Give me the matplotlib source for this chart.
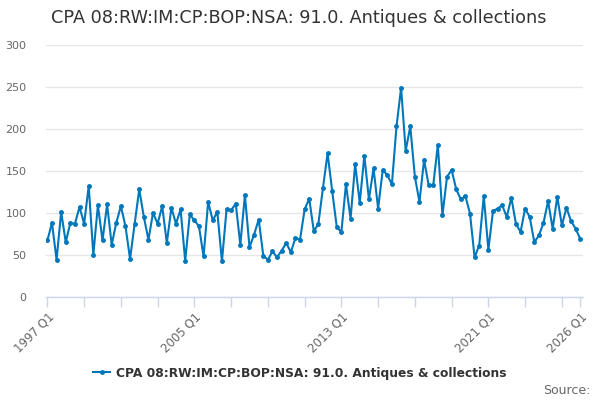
import matplotlib.pyplot as plt
from matplotlib.lines import Line2D

# quarterly values, 1997 Q1 .. 2026 Q1
values = [67, 88, 44, 101, 65, 88, 87, 107, 87, 132,
          50, 109, 67, 110, 62, 88, 108, 84, 45, 87,
          128, 95, 68, 100, 87, 108, 64, 106, 87, 104,
          43, 98, 91, 84, 48, 113, 91, 101, 42, 104,
          103, 111, 62, 121, 59, 74, 92, 49, 44, 54,
          47, 55, 64, 53, 70, 68, 104, 117, 78, 87,
          130, 171, 126, 83, 77, 134, 93, 158, 112, 168,
          116, 153, 105, 151, 145, 134, 203, 249, 174, 203,
          143, 113, 163, 133, 133, 181, 97, 143, 151, 128,
          116, 120, 99, 47, 61, 120, 56, 102, 105, 109,
          95, 118, 87, 77, 105, 95, 65, 73, 88, 114,
          81, 119, 85, 106, 90, 81, 69]
quarters = [f"{1997 + i // 4} Q{i % 4 + 1}" for i in range(len(values))]
label_idx = [0, 32, 64, 96, 116]
series_name = "CPA 08:RW:IM:CP:BOP:NSA: 91.0. Antiques & collections"

line_col = "#0077bb"
axis_col = "#ccd6eb"
text_col = "#666666"

fig = plt.figure(figsize=(6, 4), dpi=100)
ax = fig.add_axes([46 / 600, 1 - 296.7 / 400, 537 / 600, 251.7 / 400])

x = list(range(len(values)))
ax.plot(x, values, color=line_col, linewidth=1.5, marker="o", markersize=2.5,
        zorder=3)

ax.set_xlim(-0.3, 116.6)
ax.set_ylim(0, 300)
ax.set_yticks([0, 50, 100, 150, 200, 250, 300])
ax.grid(axis="y", color="#e6e6e6", linewidth=1)
ax.set_axisbelow(True)

ax.set_xticks(label_idx)
ax.set_xticklabels([quarters[i] for i in label_idx], rotation=45, ha="right",
                   rotation_mode="anchor")
ax.set_xticks([i for i in range(0, 116, 8) if i not in label_idx], minor=True)
ax.tick_params(axis="x", which="both", length=7, width=1, color=axis_col,
               labelcolor=text_col, labelsize=8.5, pad=3)
ax.tick_params(axis="y", length=0, labelcolor=text_col, labelsize=8, pad=14)

for side in ["top", "right", "left"]:
    ax.spines[side].set_visible(False)
ax.spines["bottom"].set_color(axis_col)
ax.spines["bottom"].set_linewidth(1)

fig.text(0.497, 1 - 18 / 400, series_name, ha="center", va="center",
         fontsize=12.7, color="#333333")

handle = Line2D([], [], color=line_col, linewidth=1.5, marker="o", markersize=2.5)
fig.legend([handle], [series_name], loc="center",
           bbox_to_anchor=(0.5, 1 - 373 / 400), frameon=False,
           prop={"weight": "bold", "size": 8.8}, labelcolor="#333333",
           handlelength=1.4, handletextpad=0.5)

fig.text(590 / 600, 1 - 390 / 400, "Source:", ha="right", va="center",
         fontsize=9, color=text_col)

fig.savefig("out.png", dpi=100)
